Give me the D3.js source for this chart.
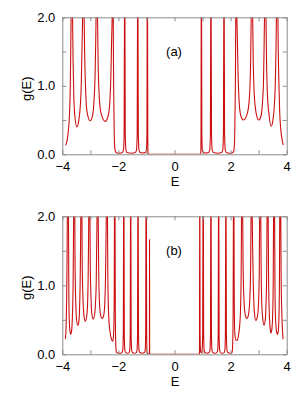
<!DOCTYPE html>
<html>
<head>
<meta charset="utf-8">
<script src="https://cdn.jsdelivr.net/npm/d3@7"></script>
<style>
html,body{margin:0;padding:0;background:#fff;}
svg{display:block;}
text{font-family:"Liberation Sans",Arial,Helvetica,sans-serif;}
</style>
</head>
<body>
<svg id="chart" width="308" height="400"></svg>
<script>
// ---- data: [E, g(E)] ----
const panelLabels = ["(a)", "(b)"];
const xTicks = [-4, -3, -2, -1, 0, 1, 2, 3, 4];
const xTickLabels = [-4, -2, 0, 2, 4];
const yTicks = [0, 0.5, 1, 1.5, 2];
const yTickLabels = [0, 1, 2];

const dosA = [
[-3.88,0.13],[-3.83,0.2],[-3.78,0.36],[-3.74,0.62],[-3.715,1.0],[-3.70,1.5],[-3.685,2.05],[-3.66,3.2],[-3.635,2.05],[-3.615,1.35],[-3.59,0.85],[-3.55,0.55],[-3.48,0.40],[-3.41,0.5],[-3.36,0.7],[-3.325,1.0],[-3.30,1.5],[-3.275,2.05],[-3.25,3.2],[-3.225,2.05],[-3.20,1.4],[-3.165,0.9],[-3.11,0.6],[-3.01,0.49],[-2.92,0.57],[-2.87,0.78],[-2.835,1.1],[-2.81,1.6],[-2.795,2.05],[-2.77,3.2],[-2.745,2.05],[-2.725,1.4],[-2.69,0.9],[-2.62,0.6],[-2.47,0.48],[-2.36,0.57],[-2.30,0.8],[-2.265,1.2],[-2.24,1.7],[-2.222,2.05],[-2.20,3.2],[-2.185,2.0],[-2.17,1.0],[-2.15,0.35],[-2.13,0.1],[-2.10,0.035],[-2.05,0.02],[-1.94,0.015],[-1.86,0.025],[-1.82,0.06],[-1.795,0.3],[-1.783,2.0],[-1.775,4],[-1.767,2.0],[-1.755,0.3],[-1.73,0.06],[-1.69,0.025],[-1.54,0.015],[-1.40,0.025],[-1.355,0.06],[-1.33,0.3],[-1.318,2.0],[-1.31,4],[-1.302,2.0],[-1.29,0.3],[-1.265,0.06],[-1.22,0.025],[-1.13,0.018],[-1.04,0.025],[-1.0,0.06],[-0.983,0.3],[-0.974,2.0],[-0.967,4],[-0.960,2.0],[-0.953,0.3],[-0.945,0.03],[-0.93,0],[0,0],
[0.93,0],[0.938,0.03],[0.945,0.3],[0.952,2.0],[0.959,4],[0.966,2.0],[0.975,0.3],[0.99,0.06],[1.03,0.025],[1.12,0.018],[1.21,0.025],[1.255,0.06],[1.28,0.3],[1.292,2.0],[1.30,4],[1.308,2.0],[1.32,0.3],[1.345,0.06],[1.39,0.025],[1.53,0.015],[1.68,0.025],[1.72,0.06],[1.745,0.3],[1.757,2.0],[1.765,4],[1.773,2.0],[1.785,0.3],[1.81,0.06],[1.85,0.025],[1.94,0.015],[2.05,0.02],[2.10,0.035],[2.13,0.1],[2.15,0.35],[2.17,1.0],[2.185,2.0],[2.20,3.2],[2.222,2.05],[2.24,1.7],[2.265,1.2],[2.30,0.8],[2.36,0.57],[2.46,0.50],[2.60,0.6],[2.68,0.9],[2.715,1.4],[2.735,2.05],[2.76,3.2],[2.785,2.05],[2.805,1.4],[2.84,0.9],[2.91,0.6],[3.0,0.50],[3.09,0.57],[3.14,0.78],[3.175,1.1],[3.195,1.6],[3.21,2.05],[3.235,3.2],[3.26,2.05],[3.28,1.4],[3.31,0.9],[3.37,0.58],[3.45,0.41],[3.51,0.5],[3.56,0.72],[3.595,1.05],[3.62,1.55],[3.635,2.05],[3.66,3.2],[3.685,2.05],[3.70,1.5],[3.725,1.0],[3.75,0.62],[3.79,0.36],[3.84,0.2],[3.88,0.136]
];

const dosB = [
[-3.89,0.22],[-3.865,0.4],[-3.845,0.8],[-3.83,1.4],[-3.82,2.05],[-3.80,3.2],[-3.78,2.05],[-3.77,1.1],[-3.755,0.55],[-3.73,0.35],[-3.70,0.29],[-3.665,0.35],[-3.64,0.55],[-3.615,1.0],[-3.605,1.5],[-3.595,2.05],[-3.575,3.2],[-3.555,2.05],[-3.545,1.3],[-3.52,0.75],[-3.49,0.5],[-3.45,0.42],[-3.41,0.47],[-3.385,0.65],[-3.365,1.0],[-3.35,1.5],[-3.34,2.05],[-3.32,3.2],[-3.30,2.05],[-3.29,1.3],[-3.26,0.78],[-3.225,0.55],[-3.18,0.48],[-3.13,0.55],[-3.10,0.72],[-3.08,1.05],[-3.065,1.6],[-3.055,2.05],[-3.035,3.2],[-3.015,2.05],[-3.003,1.3],[-2.975,0.8],[-2.945,0.58],[-2.90,0.51],[-2.85,0.57],[-2.815,0.75],[-2.79,1.05],[-2.775,1.55],[-2.76,2.05],[-2.74,3.2],[-2.72,2.05],[-2.705,1.3],[-2.68,0.8],[-2.64,0.58],[-2.58,0.52],[-2.52,0.57],[-2.485,0.75],[-2.46,1.1],[-2.44,1.7],[-2.43,2.05],[-2.41,3.2],[-2.39,2.05],[-2.378,1.2],[-2.35,0.6],[-2.30,0.33],[-2.24,0.21],[-2.20,0.19],[-2.17,0.3],[-2.15,0.8],[-2.14,2.1],[-2.13,4],[-2.12,2.0],[-2.11,0.6],[-2.09,0.1],[-2.07,0.03],[-2.02,0.018],[-1.93,0.015],[-1.87,0.025],[-1.845,0.06],[-1.825,0.3],[-1.815,2.0],[-1.808,4],[-1.80,2.0],[-1.79,0.3],[-1.77,0.06],[-1.74,0.025],[-1.68,0.015],[-1.62,0.025],[-1.595,0.06],[-1.578,0.3],[-1.569,2.0],[-1.562,4],[-1.555,2.0],[-1.546,0.3],[-1.528,0.06],[-1.50,0.025],[-1.43,0.015],[-1.36,0.025],[-1.335,0.06],[-1.317,0.3],[-1.308,2.0],[-1.30,4],[-1.292,2.0],[-1.283,0.3],[-1.265,0.06],[-1.235,0.025],[-1.15,0.015],[-1.07,0.025],[-1.045,0.06],[-1.027,0.3],[-1.018,2.0],[-1.01,4],[-1.002,2.0],[-0.993,0.3],[-0.98,0.04],[-0.96,0.01],[-0.90,0.0],[-0.894,0.0],[-0.89,1.67],[-0.886,0.0],[0,0],
[0.886,0],[0.89,0.02],[0.893,0.3],[0.897,2.0],[0.901,4],[0.905,2.0],[0.912,0.3],[0.93,0.04],[0.96,0.02],[0.985,0.06],[1.005,0.3],[1.014,2.0],[1.022,4],[1.03,2.0],[1.039,0.3],[1.057,0.06],[1.085,0.025],[1.16,0.015],[1.235,0.025],[1.265,0.06],[1.283,0.3],[1.292,2.0],[1.30,4],[1.308,2.0],[1.317,0.3],[1.335,0.06],[1.365,0.025],[1.44,0.015],[1.51,0.025],[1.54,0.06],[1.558,0.3],[1.567,2.0],[1.574,4],[1.581,2.0],[1.59,0.3],[1.61,0.06],[1.64,0.025],[1.71,0.015],[1.77,0.025],[1.795,0.06],[1.815,0.3],[1.825,2.0],[1.832,4],[1.84,2.0],[1.85,0.3],[1.87,0.06],[1.90,0.025],[1.99,0.015],[2.05,0.025],[2.07,0.1],[2.09,0.6],[2.10,2.0],[2.11,4],[2.12,2.1],[2.13,0.8],[2.15,0.3],[2.20,0.2],[2.24,0.21],[2.30,0.33],[2.35,0.6],[2.378,1.2],[2.39,2.05],[2.41,3.2],[2.43,2.05],[2.445,1.3],[2.475,0.8],[2.52,0.58],[2.58,0.52],[2.64,0.58],[2.685,0.8],[2.715,1.3],[2.73,2.05],[2.75,3.2],[2.77,2.05],[2.785,1.55],[2.81,1.0],[2.85,0.6],[2.90,0.49],[2.96,0.56],[3.0,0.78],[3.022,1.2],[3.035,2.05],[3.055,3.2],[3.075,2.05],[3.088,1.3],[3.11,0.75],[3.15,0.5],[3.19,0.42],[3.235,0.5],[3.265,0.75],[3.287,1.2],[3.30,2.05],[3.32,3.2],[3.34,2.05],[3.352,1.2],[3.375,0.65],[3.41,0.38],[3.44,0.31],[3.475,0.38],[3.505,0.65],[3.522,1.2],[3.532,2.05],[3.55,3.2],[3.568,2.05],[3.58,1.1],[3.60,0.55],[3.635,0.34],[3.67,0.29],[3.70,0.34],[3.725,0.55],[3.742,1.1],[3.752,2.05],[3.77,3.2],[3.788,2.05],[3.80,1.2],[3.825,0.6],[3.85,0.35],[3.87,0.22]
];

// ---- layout ----
const svg = d3.select("#chart");
const left = 62.3, right = 286.7;
const panels = [
  {top: 17.3, bottom: 154.3, data: dosA, label: panelLabels[0]},
  {top: 216.3, bottom: 354.3, data: dosB, label: panelLabels[1]}
];
const frameColor = "#8c8c8c";
const lineColor = "#cc1010";
const fmtX = d => xTickLabels.includes(d) ? d3.format("d")(d) : "";
const fmtY = d => yTickLabels.includes(d) ? d3.format(".1f")(d) : "";

panels.forEach((p, i) => {
  const x = d3.scaleLinear().domain([-4, 4]).range([left, right]);
  const y = d3.scaleLinear().domain([0, 2]).range([p.bottom, p.top]);
  const g = svg.append("g");

  const clipId = "clip" + i;
  g.append("clipPath").attr("id", clipId).append("rect")
    .attr("x", left).attr("y", p.top).attr("width", right - left).attr("height", p.bottom - p.top);

  const line = d3.line().x(d => x(d[0])).y(d => y(d[1])).curve(d3.curveMonotoneX);
  g.append("path").datum(p.data)
    .attr("clip-path", `url(#${clipId})`)
    .attr("fill", "none").attr("stroke", lineColor).attr("stroke-width", 1.1)
    .attr("stroke-linejoin", "round")
    .attr("d", line);

  const styleAxis = sel => {
    sel.selectAll("path.domain").attr("stroke", frameColor);
    sel.selectAll(".tick line").attr("stroke", frameColor);
    sel.selectAll(".tick text").attr("fill", "#000").style("font-size", "13px")
      .style("font-family", '"Liberation Sans",Arial,Helvetica,sans-serif');
  };

  g.append("g").attr("transform", `translate(0,${p.bottom})`)
    .call(d3.axisBottom(x).tickValues(xTicks).tickFormat(fmtX).tickSizeInner(-4).tickSizeOuter(0).tickPadding(7.5))
    .call(styleAxis);
  g.append("g").attr("transform", `translate(0,${p.top})`)
    .call(d3.axisTop(x).tickValues(xTicks).tickFormat("").tickSizeInner(-4).tickSizeOuter(0))
    .call(styleAxis);
  g.append("g").attr("transform", `translate(${left},0)`)
    .call(d3.axisLeft(y).tickValues(yTicks).tickFormat(fmtY).tickSizeInner(-4).tickSizeOuter(0).tickPadding(7))
    .call(styleAxis);
  g.append("g").attr("transform", `translate(${right},0)`)
    .call(d3.axisRight(y).tickValues(yTicks).tickFormat("").tickSizeInner(-4).tickSizeOuter(0))
    .call(styleAxis);

  g.append("text").attr("x", (left + right) / 2 + 0.5).attr("y", p.bottom + 32)
    .attr("text-anchor", "middle").style("font-size", "13px").text("E");
  g.append("text")
    .attr("transform", `translate(26.7,${p.top + 71.5}) rotate(-90)`)
    .attr("text-anchor", "middle").attr("dy", "0.35em").style("font-size", "13px").text("g(E)");
  g.append("text").attr("x", 174).attr("y", p.top + 34.5).attr("dy", "0.35em")
    .attr("text-anchor", "middle").style("font-size", "13px").text(p.label);
});
</script>
</body>
</html>
